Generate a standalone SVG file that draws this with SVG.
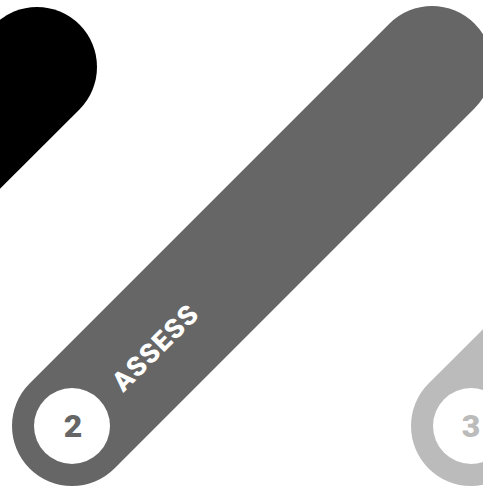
<svg xmlns="http://www.w3.org/2000/svg" width="483" height="490" viewBox="0 0 483 490">
<style>
.bar{fill:none;stroke-width:120;stroke-linecap:round}
.hole{fill:#ffffff}
.num{font-family:Roboto,"Liberation Sans",sans-serif;font-weight:900;font-size:32px;text-anchor:middle}
.lbl{font-family:Roboto,"Liberation Sans",sans-serif;font-weight:900;font-size:27px;fill:#ffffff;text-anchor:middle;letter-spacing:1.5px}
</style>
<rect width="483" height="490" fill="#ffffff"/>
<g id="step1">
<line class="bar" x1="37" y1="67" x2="-323" y2="427" stroke="#000000"/>
</g>
<g id="step2">
<line class="bar" x1="72" y1="426" x2="432" y2="66" stroke="#666666"/>
<circle class="hole" cx="72" cy="426" r="38"/>
<text class="num" x="73" y="437" fill="#666666">2</text>
<text class="lbl" transform="translate(155,347) rotate(-45)" x="0" y="10">ASSESS</text>
</g>
<g id="step3">
<line class="bar" x1="471" y1="426" x2="831" y2="66" stroke="#bbbbbb"/>
<circle class="hole" cx="471" cy="426" r="38"/>
<text class="num" x="471" y="437" fill="#bbbbbb">3</text>
</g>
</svg>
